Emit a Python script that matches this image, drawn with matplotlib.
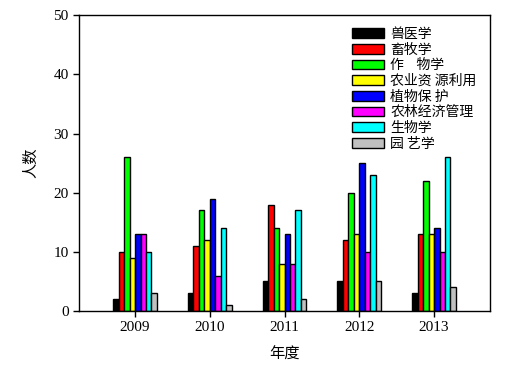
import numpy as np
import matplotlib.pyplot as plt

plt.rcParams['font.family'] = ['Liberation Serif', 'Noto Sans CJK SC', 'DejaVu Sans']

# data
years = ['2009', '2010', '2011', '2012', '2013']
majors = ['兽医学', '畜牧学', '作    物学', '农业资 源利用', '植物保 护',
          '农林经济管理', '生物学', '园 艺学']
colors = ['#000000', '#ff0000', '#00ff00', '#ffff00', '#0000ff',
          '#ff00ff', '#00ffff', '#c0c0c0']

vet = [2, 3, 5, 5, 3]
animal = [10, 11, 18, 12, 13]
crop = [26, 17, 14, 20, 22]
resource = [9, 12, 8, 13, 13]
plant_prot = [13, 19, 13, 25, 14]
agri_econ = [13, 6, 8, 10, 10]
biology = [10, 14, 17, 23, 26]
horti = [3, 1, 2, 5, 4]
series = [vet, animal, crop, resource, plant_prot, agri_econ, biology, horti]

fig = plt.figure(figsize=(5.1, 3.69), dpi=100)
ax = fig.add_axes([0.155, 0.157, 0.806, 0.802])

x = np.arange(len(years))
w = 0.073
for i, vals in enumerate(series):
    ax.bar(x + (i - 3.5) * w, vals, width=w, color=colors[i], edgecolor='black',
           linewidth=1.0, label=majors[i])

ax.set_xlim(-0.75, 4.75)
ax.set_ylim(0, 50)
ax.set_yticks(range(0, 51, 10))
ax.set_xticks(x)
ax.set_xticklabels(years)
ax.tick_params(labelsize=11, length=4, width=1)
for s in ax.spines.values():
    s.set_linewidth(1)

ax.set_xlabel('年度', family=['Noto Sans CJK SC'], fontsize=11, labelpad=8)
ax.set_ylabel('人数', family=['Noto Sans CJK SC'], fontsize=11, labelpad=10)

leg = ax.legend(loc='upper left', bbox_to_anchor=(352 / 510, 1 - 27 / 369),
                bbox_transform=fig.transFigure, frameon=False,
                prop={'family': ['Noto Sans CJK SC'], 'size': 10},
                handlelength=2.3, handleheight=0.7, handletextpad=0.45,
                labelspacing=0.12, borderpad=0, borderaxespad=0)

fig.savefig('out.png', dpi=100)
